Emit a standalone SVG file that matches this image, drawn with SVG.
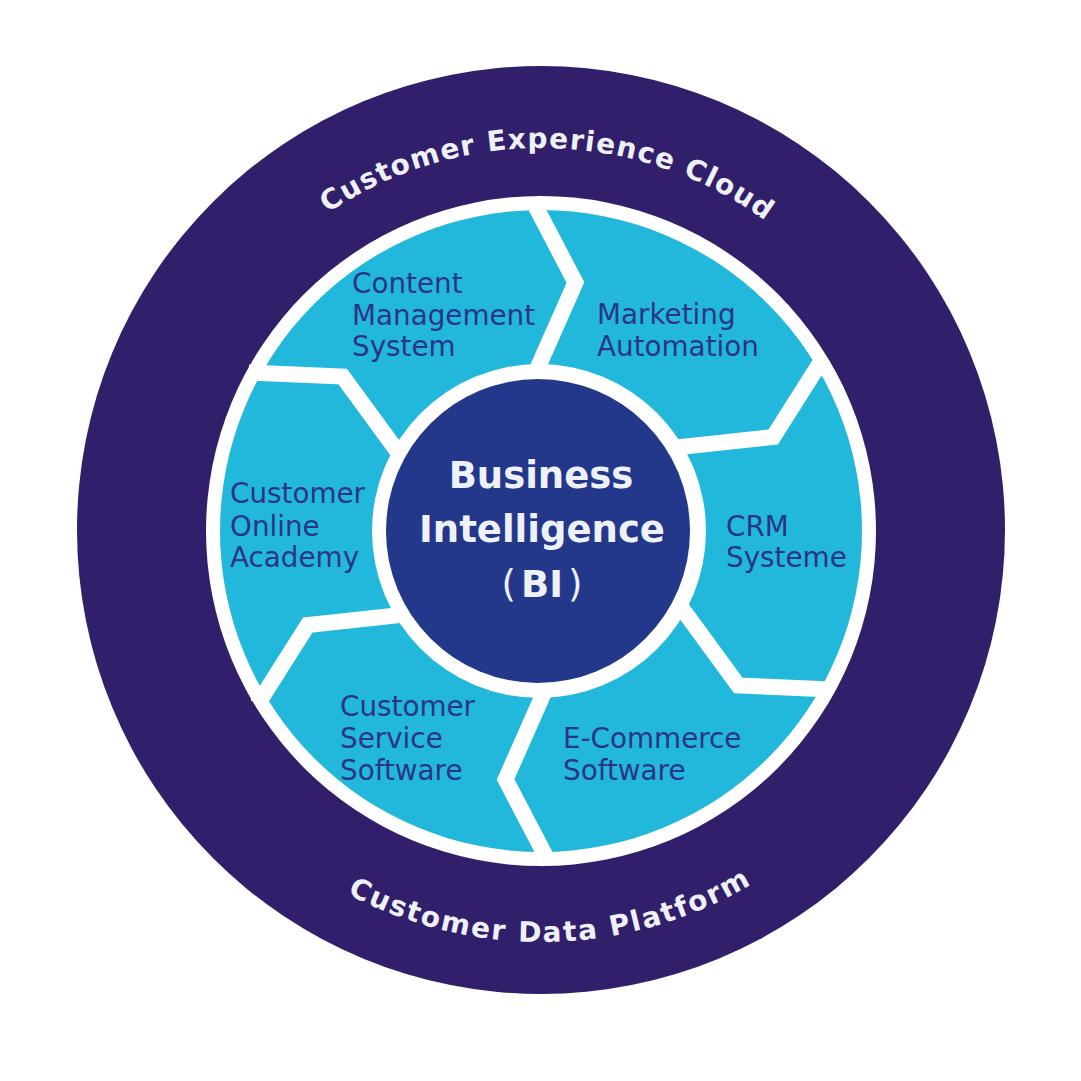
<svg xmlns="http://www.w3.org/2000/svg" width="1081" height="1081" viewBox="0 0 1081 1081">
<style>
.seg{font-family:"DejaVu Sans",sans-serif;font-size:27.8px;fill:#2a3587;}
.bi{font-family:"DejaVu Sans",sans-serif;font-size:37px;font-weight:bold;fill:#eef2f8;text-anchor:middle;}
.arc{font-family:"DejaVu Sans",sans-serif;font-size:28px;font-weight:bold;fill:#eef2f8;text-anchor:middle;}
.gap{fill:none;stroke:#ffffff;stroke-width:16;stroke-linejoin:miter;stroke-miterlimit:10;}
</style>
<defs>
<path id="gapShape" d="M160,0 L247.56,41.42 L332,0"/>
<path id="topArc" d="M159,530 A382,382 0 0 1 923,530"/>
<path id="botArc" d="M129,530 A412,412 0 0 0 953,530"/>
</defs>
<rect width="1081" height="1081" fill="#ffffff"/>
<g id="outer-ring">
<circle cx="541" cy="530" r="464" fill="#321f6b"/>
<text class="arc" letter-spacing="1.3"><textPath href="#topArc" startOffset="50.6%">Customer Experience Cloud</textPath></text>
<text class="arc" letter-spacing="1.9"><textPath href="#botArc" startOffset="50.8%">Customer Data Platform</textPath></text>
</g>
<g id="ring">
<circle cx="541" cy="531" r="335" fill="#ffffff"/>
<circle cx="541" cy="531" r="321" fill="#21b8db"/>
</g>
<g id="connectors">
<use href="#gapShape" class="gap" transform="translate(540.5,531) rotate(-91.5)"/>
<use href="#gapShape" class="gap" transform="translate(540.5,531) rotate(-31.5)"/>
<use href="#gapShape" class="gap" transform="translate(540.5,531) rotate(28.5)"/>
<use href="#gapShape" class="gap" transform="translate(540.5,531) rotate(88.5)"/>
<use href="#gapShape" class="gap" transform="translate(540.5,531) rotate(148.5)"/>
<use href="#gapShape" class="gap" transform="translate(540.5,531) rotate(208.5)"/>
</g>
<g id="cms"><text class="seg"><tspan x="352" y="293">Content</tspan><tspan x="352" y="325">Management</tspan><tspan x="352" y="356">System</tspan></text></g>
<g id="marketing"><text class="seg"><tspan x="597" y="324">Marketing</tspan><tspan x="597" y="356">Automation</tspan></text></g>
<g id="crm"><text class="seg"><tspan x="726" y="536">CRM</tspan><tspan x="726" y="567">Systeme</tspan></text></g>
<g id="ecommerce"><text class="seg"><tspan x="563" y="748">E-Commerce</tspan><tspan x="563" y="780">Software</tspan></text></g>
<g id="service"><text class="seg"><tspan x="340" y="716">Customer</tspan><tspan x="340" y="748">Service</tspan><tspan x="340" y="780">Software</tspan></text></g>
<g id="academy"><text class="seg"><tspan x="230" y="503">Customer</tspan><tspan x="230" y="536">Online</tspan><tspan x="230" y="567">Academy</tspan></text></g>
<g id="bi">
<circle cx="539" cy="531" r="167" fill="#ffffff"/>
<circle cx="538" cy="531" r="152" fill="#24388b"/>
<text class="bi" x="541" y="488">Business</text>
<text class="bi" x="542" y="542">Intelligence</text>
<text class="bi" x="542" y="597"><tspan font-weight="normal">(</tspan><tspan dx="5">BI</tspan><tspan dx="5" font-weight="normal">)</tspan></text>
</g>
</svg>
